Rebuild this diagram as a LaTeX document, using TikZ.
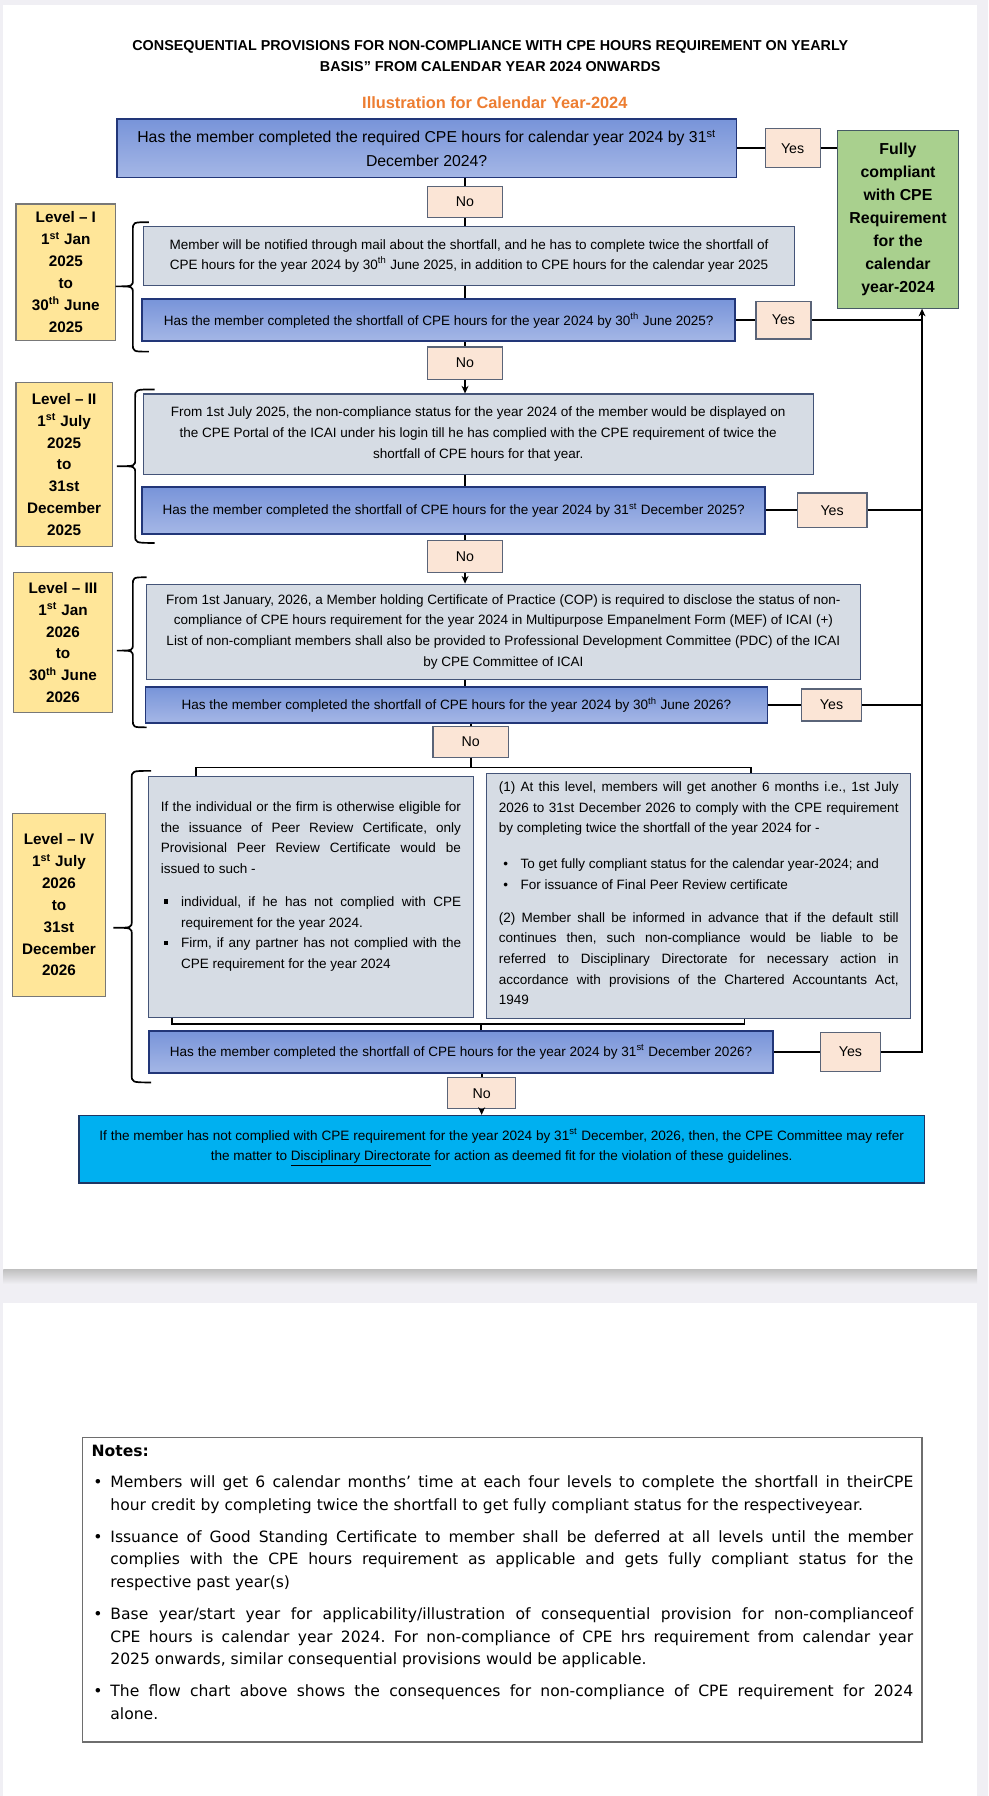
\documentclass[tikz,border=0pt]{standalone}
\usepackage{fontspec}
\setmainfont{Liberation Sans}
\newfontfamily\notesfont{DejaVu Sans}
\usetikzlibrary{arrows.meta}
\frenchspacing
\definecolor{pagebg}{RGB}{240,239,244}
\definecolor{qtop}{RGB}{120,148,217}
\definecolor{qbot}{RGB}{165,183,230}
\definecolor{qline}{RGB}{34,54,120}
\definecolor{ifill}{RGB}{214,220,228}
\definecolor{iline}{RGB}{68,84,120}
\definecolor{ynfill}{RGB}{251,229,214}
\definecolor{ynline}{RGB}{90,100,120}
\definecolor{gfill}{RGB}{169,208,142}
\definecolor{gline}{RGB}{70,90,100}
\definecolor{lfill}{RGB}{255,230,153}
\definecolor{lline}{RGB}{120,120,120}
\definecolor{ffill}{RGB}{0,176,240}
\definecolor{fline}{RGB}{30,55,100}
\definecolor{orangetxt}{RGB}{237,125,49}
\definecolor{noteline}{RGB}{110,110,110}
\newcommand\fs[2]{\fontsize{#1}{#2}\selectfont}
\newcommand\jl[2]{\makebox[#1][s]{#2}\par}
\newcommand\pl[1]{\mbox{#1}\par}
\newcommand\mybrace[6]{\draw[brc] (#3,#4) .. controls (#2,#4) .. (#2,#4+7) -- (#2,#5-6) .. controls (#2,#5) .. (#1,#5) .. controls (#2,#5) .. (#2,#5+6) -- (#2,#6-7) .. controls (#2,#6) .. (#3,#6);}
\newcommand\nbul{\hspace*{7.1pt}\makebox[11.2pt][l]{•}}
\newcommand\nind{\hspace*{18.3pt}}
\tikzset{
 qbox/.style={draw=qline, line width=1.2pt, top color=qtop, bottom color=qbot, inner sep=0pt, align=center, font=\fs{8.85}{13.5}},
 ibox/.style={draw=iline, line width=0.7pt, fill=ifill, inner sep=0pt, align=center, font=\fs{8.85}{13.5}},
 ynbox/.style={draw=ynline, line width=0.8pt, fill=ynfill, inner sep=0pt, font=\fs{9.3}{11}},
 lvbox/.style={draw=lline, line width=0.8pt, fill=lfill, inner sep=0pt, align=center, font=\bfseries\fs{10}{14.3}},
 gbox/.style={draw=gline, line width=0.8pt, fill=gfill, inner sep=0pt, align=center, font=\bfseries\fs{10.4}{15}},
 fbox/.style={draw=fline, line width=1pt, fill=ffill, inner sep=0pt, font=\fs{8.9}{13.5}},
 conn/.style={line width=1.2pt, black},
 arr/.style={conn, -{Stealth[length=5pt,width=4.5pt]}},
 brc/.style={line width=1.1pt, black},
 sz/.style 2 args={minimum width=#1, minimum height=#2},
}
\begin{document}
\begin{tikzpicture}[x=0.75pt, y=-0.75pt]
\useasboundingbox (0,0) rectangle (863,1568);
\fill[pagebg] (0,0) rectangle (863,1568);
\fill[white] (3,4) rectangle (853,1108);
\shade[top color=black!25, bottom color=pagebg] (3,1108) rectangle (853,1121);
\fill[white] (3,1138) rectangle (853,1568);

% titles
\node[font=\bfseries\fs{9.4}{14.25}, align=center] (title) at (428,49) {CONSEQUENTIAL PROVISIONS FOR NON-COMPLIANCE WITH CPE HOURS REQUIREMENT ON YEARLY\\BASIS” FROM CALENDAR YEAR 2024 ONWARDS};
\node[font=\bfseries\fs{10.7}{13}, text=orangetxt] (sub) at (432,90) {Illustration for Calendar Year-2024};

% top question
\node[qbox, font=\fs{10.35}{15.75}, sz={405.75pt}{38.25pt}] (q0) at (372.5,129.5) {Has the member completed the required CPE hours for calendar year 2024 by 31\textsuperscript{st}\\December 2024?};
\node[ynbox, sz={36pt}{25.5pt}] (y0) at (692,129.5) {Yes};
\node[gbox, sz={79.5pt}{116.25pt}] (green) at (784,191.5) {Fully\\compliant\\with CPE\\Requirement\\for the\\calendar\\year-2024};

% Level I
\node[ynbox, sz={49.5pt}{20.25pt}] (no1) at (406,176.5) {No};
\node[lvbox, sz={65.25pt}{89.25pt}] (lv1) at (57.5,237.5) {Level – I\\1\textsuperscript{st} Jan\\2025\\to\\30\textsuperscript{th} June\\2025};
\node[ibox, sz={426.75pt}{38.25pt}] (i1) at (409.5,223.5) {Member will be notified through mail about the shortfall, and he has to complete twice the shortfall of\\CPE hours for the year 2024 by 30\textsuperscript{th} June 2025, in addition to CPE hours for the calendar year 2025};
\node[qbox, sz={388.5pt}{27.75pt}] (q1) at (383,279.5) {Has the member completed the shortfall of CPE hours for the year 2024 by 30\textsuperscript{th} June 2025?};
\node[ynbox, sz={36pt}{24.75pt}] (y1) at (684,279.5) {Yes};
\mybrace{101}{116}{130}{194}{250}{307}

% Level II
\node[ynbox, sz={49.5pt}{21pt}] (no2) at (406,317) {No};
\node[lvbox, sz={63pt}{107.25pt}] (lv2) at (56,405.5) {Level – II\\1\textsuperscript{st} July\\2025\\to\\31st\\December\\2025};
\node[ibox, sz={438.75pt}{52.5pt}] (i2) at (417.5,379) {From 1st July 2025, the non-compliance status for the year 2024 of the member would be displayed on\\the CPE Portal of the ICAI under his login till he has complied with the CPE requirement of twice the\\shortfall of CPE hours for that year.};
\node[qbox, sz={408pt}{30.75pt}] (q2) at (396,445.5) {Has the member completed the shortfall of CPE hours for the year 2024 by 31\textsuperscript{st} December 2025?};
\node[ynbox, sz={45.75pt}{22.5pt}] (y2) at (726.5,445.5) {Yes};
\mybrace{102}{118}{135}{340}{407}{474}

% Level III
\node[ynbox, sz={49.5pt}{21pt}] (no3) at (406,486) {No};
\node[lvbox, sz={64.5pt}{91.5pt}] (lv3) at (55,561) {Level – III\\1\textsuperscript{st} Jan\\2026\\to\\30\textsuperscript{th} June\\2026};
\node[ibox, sz={467.25pt}{62.25pt}] (i3) at (439.5,551.5) {From 1st January, 2026, a Member holding Certificate of Practice (COP) is required to disclose the status of non-\\compliance of CPE hours requirement for the year 2024 in Multipurpose Empanelment Form (MEF) of ICAI (+)\\List of non-compliant members shall also be provided to Professional Development Committee (PDC) of the ICAI\\by CPE Committee of ICAI};
\node[qbox, sz={407.25pt}{23.25pt}] (q3) at (398.5,615.5) {Has the member completed the shortfall of CPE hours for the year 2024 by 30\textsuperscript{th} June 2026?};
\node[ynbox, sz={39pt}{21pt}] (y3) at (726,615.5) {Yes};
\mybrace{102}{116}{128}{504}{568}{635}

% Level IV
\node[ynbox, sz={49.5pt}{20.25pt}] (no4) at (411,647.5) {No};
\node[lvbox, sz={60.75pt}{120pt}] (lv4) at (51.5,790) {Level – IV\\1\textsuperscript{st} July\\2026\\to\\31st\\December\\2026};
\node[ibox, sz={212.25pt}{157.5pt}] (l4a) at (271.5,783) {\parbox[c][157.5pt][t]{196.5pt}{\fs{8.85}{13.5}\vspace*{16.4pt}%
\jl{196.5pt}{If the individual or the firm is otherwise eligible for}
\jl{196.5pt}{the issuance of Peer Review Certificate, only}
\jl{196.5pt}{Provisional Peer Review Certificate would be}
\pl{issued to such -}
\vspace{8.25pt}
\hspace*{2.25pt}\makebox[10.9pt][l]{\raisebox{0.22em}{\rule{0.3em}{0.3em}}}\jl{183.4pt}{individual, if he has not complied with CPE}
\hspace*{13.15pt}\pl{requirement for the year 2024.}
\hspace*{2.25pt}\makebox[10.9pt][l]{\raisebox{0.22em}{\rule{0.3em}{0.3em}}}\jl{183.4pt}{Firm, if any partner has not complied with the}
\hspace*{13.15pt}\pl{CPE requirement for the year 2024}}};
\node[ibox, sz={277.5pt}{160.5pt}] (r4) at (610,782) {\parbox[c][160.5pt][t]{261.75pt}{\fs{8.85}{13.5}\vspace*{5.7pt}%
\jl{261.75pt}{(1) At this level, members will get another 6 months i.e., 1st July}
\jl{261.75pt}{2026 to 31st December 2026 to comply with the CPE requirement}
\pl{by completing twice the shortfall of the year 2024 for -}
\vspace{9.75pt}
\hspace*{3pt}\makebox[11.25pt][l]{•}\pl{To get fully compliant status for the calendar year-2024; and}
\hspace*{3pt}\makebox[11.25pt][l]{•}\pl{For issuance of Final Peer Review certificate}
\vspace{8.25pt}
\jl{261.75pt}{(2) Member shall be informed in advance that if the default still}
\jl{261.75pt}{continues then, such non-compliance would be liable to be}
\jl{261.75pt}{referred to Disciplinary Directorate for necessary action in}
\jl{261.75pt}{accordance with provisions of the Chartered Accountants Act,}
\pl{1949}}};
\node[qbox, sz={408.75pt}{27.75pt}] (q4) at (402.5,918.5) {Has the member completed the shortfall of CPE hours for the year 2024 by 31\textsuperscript{st} December 2026?};
\node[ynbox, sz={39.75pt}{25.5pt}] (y4) at (742.5,918.5) {Yes};
\mybrace{99}{115}{132}{673}{810}{945}

% final
\node[ynbox, sz={44.25pt}{20.25pt}] (no5) at (420.5,954.5) {No};
\node[fbox, sz={553.5pt}{44.25pt}] (fin) at (438,1003.5) {\parbox[c][44.25pt][t]{553.5pt}{\centering\fs{8.9}{13.5}\vspace*{8.1pt}%
If the member has not complied with CPE requirement for the year 2024 by 31\textsuperscript{st} December, 2026, then, the CPE Committee may refer\\
the matter to \underline{Disciplinary Directorate} for action as deemed fit for the violation of these guidelines.}};

% connectors
\draw[conn] (no1.north |- q0.south) -- (no1.north);
\draw[conn] (no1.south) -- (no1.south |- i1.north);
\draw[conn] (no1.south |- i1.south) -- (no1.south |- q1.north);
\draw[conn] (no2.north |- q1.south) -- (no2.north);
\draw[arr] (no2.south) -- (no2.south |- i2.north);
\draw[conn] (no2.south |- i2.south) -- (no2.south |- q2.north);
\draw[conn] (no3.north |- q2.south) -- (no3.north);
\draw[arr] (no3.south) -- (no3.south |- i3.north);
\draw[conn] (no3.south |- i3.south) -- (no3.south |- q3.north);
\draw[conn] (no4.north |- q3.south) -- (no4.north);
\coordinate (tb) at (410,670);
\coordinate (tbl) at (171,670);
\coordinate (tbr) at (656,670);
\draw[conn] (no4.south |- no4.south) -- (no4.south |- tb);
\draw[conn] (tbl |- l4a.north) -- (tbl) -- (tbr) -- (tbr |- r4.north);
\coordinate (bb) at (420,894);
\coordinate (bbl) at (150,894);
\coordinate (bbr) at (650,894);
\draw[conn] (bbl |- l4a.south) -- (bbl) -- (bbr) -- (bbr |- r4.south);
\draw[conn] (bb) -- (bb |- q4.north);
\draw[conn] (no5.north |- q4.south) -- (no5.north);
\draw[arr] (no5.south) -- (no5.south |- fin.north);

\coordinate (rv) at (805,918.5);
\draw[conn] (q0.east) -- (y0.west);
\draw[conn] (y0.east) -- (y0.east -| green.west);
\draw[conn] (q1.east) -- (y1.west);
\draw[conn] (y1.east) -- (y1.east -| rv);
\draw[conn] (q2.east) -- (y2.west);
\draw[conn] (y2.east) -- (y2.east -| rv);
\draw[conn] (q3.east) -- (y3.west);
\draw[conn] (y3.east) -- (y3.east -| rv);
\draw[conn] (q4.east) -- (y4.west);
\draw[arr] (y4.east) -- (rv) -- (rv |- green.south);

% notes
\node[draw=noteline, line width=1pt, fill=white, inner sep=0pt, sz={549.75pt}{199.5pt}] (notes) at (438.5,1388) {\parbox[c][199.5pt][t]{549.75pt}{\notesfont\fs{10.2}{14.8}\vspace*{4.8pt}%
\hspace*{6pt}\textbf{Notes:}\par
\vspace{5.7pt}
\nbul\jl{525.75pt}{Members will get 6 calendar months’ time at each four levels to complete the shortfall in theirCPE}
\nind\pl{hour credit by completing twice the shortfall to get fully compliant status for the respectiveyear.}
\vspace{6.2pt}
\nbul\jl{525.75pt}{Issuance of Good Standing Certificate to member shall be deferred at all levels until the member}
\nind\jl{525.75pt}{complies with the CPE hours requirement as applicable and gets fully compliant status for the}
\nind\pl{respective past year(s)}
\vspace{6.2pt}
\nbul\jl{525.75pt}{Base year/start year for applicability/illustration of consequential provision for non-complianceof}
\nind\jl{525.75pt}{CPE hours is calendar year 2024. For non-compliance of CPE hrs requirement from calendar year}
\nind\pl{2025 onwards, similar consequential provisions would be applicable.}
\vspace{6.2pt}
\nbul\jl{525.75pt}{The flow chart above shows the consequences for non-compliance of CPE requirement for 2024}
\nind\pl{alone.}}};
\end{tikzpicture}
\end{document}
